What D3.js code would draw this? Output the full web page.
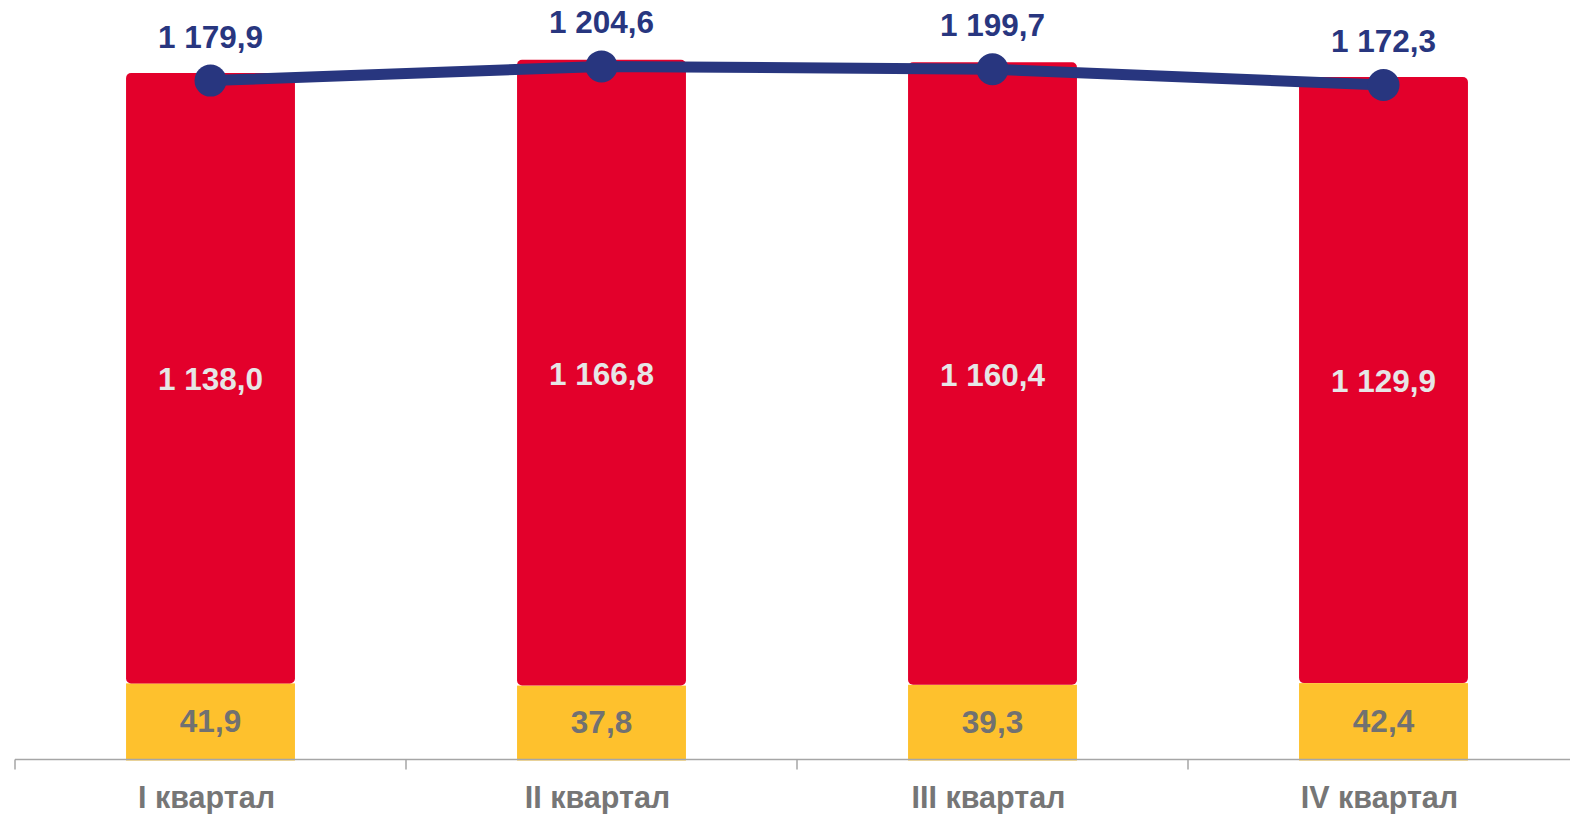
<!DOCTYPE html>
<html>
<head>
<meta charset="utf-8">
<script src="https://cdn.jsdelivr.net/npm/d3@7"></script>
<style>
  html, body { margin: 0; padding: 0; background: #ffffff; }
  svg { display: block; }
  text { font-family: "Liberation Sans", Arial, sans-serif; font-weight: bold; }
</style>
</head>
<body>
<svg id="chart" width="1570" height="814"></svg>
<script>
// ---- data ----
const categories = ["I квартал", "II квартал", "III квартал", "IV квартал"];
const yellowValues = [41.9, 37.8, 39.3, 42.4];
const redValues = [1138.0, 1166.8, 1160.4, 1129.9];
const totalValues = [1179.9, 1204.6, 1199.7, 1172.3];
const yellowLabels = ["41,9", "37,8", "39,3", "42,4"];
const redLabels = ["1 138,0", "1 166,8", "1 160,4", "1 129,9"];
const totalLabels = ["1 179,9", "1 204,6", "1 199,7", "1 172,3"];

// ---- layout ----
const W = 1570, H = 814;
const axisY = 759.5;
const svg = d3.select("#chart");

const xCat = d3.scaleBand().domain(categories).range([15, 1579]).padding(0);
const xBar = d3.scaleBand().domain(categories).range([15, 1579])
  .paddingInner(0.568).paddingOuter(0.284);

// primary axis (bars) starts below zero, secondary (line) starts at zero
const y1 = d3.scaleLinear().domain([-100, 1300]).range([axisY, 8.5]);
const y2 = d3.scaleLinear().domain([0, 1320]).range([axisY, 0]);

const C = {
  red: "#e3002b", yellow: "#fec12d", navy: "#28367f",
  redLbl: "#e6e6e6", yelLbl: "#717171", cat: "#767676", axis: "#a6a6a6"
};

const rows = categories.map((c, i) => ({
  c, y: yellowValues[i], r: redValues[i], t: totalValues[i],
  yl: yellowLabels[i], rl: redLabels[i], tl: totalLabels[i]
}));

// yellow segments
svg.append("g").selectAll("rect").data(rows).join("rect")
  .attr("x", d => xBar(d.c))
  .attr("width", xBar.bandwidth())
  .attr("y", d => y1(d.y))
  .attr("height", d => y1.range()[0] - y1(d.y) + 1)
  .attr("fill", C.yellow);

// red segments (stacked on yellow)
svg.append("g").selectAll("rect").data(rows).join("rect")
  .attr("x", d => xBar(d.c))
  .attr("width", xBar.bandwidth())
  .attr("y", d => y1(d.y + d.r))
  .attr("height", d => y1(d.y) - y1(d.y + d.r))
  .attr("rx", 5).attr("ry", 5)
  .attr("fill", C.red);

// axis line + ticks
const ax = svg.append("g");
ax.append("line").attr("x1", 15).attr("x2", W).attr("y1", axisY).attr("y2", axisY)
  .attr("stroke", C.axis).attr("stroke-width", 1.5);
ax.selectAll("line.tick").data(categories).join("line").attr("class", "tick")
  .attr("x1", d => xCat(d)).attr("x2", d => xCat(d))
  .attr("y1", axisY).attr("y2", axisY + 10)
  .attr("stroke", C.axis).attr("stroke-width", 1.5);

// category labels
svg.append("g").selectAll("text").data(rows).join("text")
  .attr("x", d => xCat(d.c) + xCat.bandwidth() / 2 - 4)
  .attr("y", axisY + 48.5)
  .attr("text-anchor", "middle")
  .attr("font-size", 30.5)
  .attr("fill", C.cat)
  .text(d => d.c);

// bar labels
svg.append("g").selectAll("text").data(rows).join("text")
  .attr("x", d => xBar(d.c) + xBar.bandwidth() / 2)
  .attr("y", d => (y1(d.y) + y1(d.y + d.r)) / 2 + 12)
  .attr("text-anchor", "middle")
  .attr("font-size", 31.5)
  .attr("fill", C.redLbl)
  .text(d => d.rl);

svg.append("g").selectAll("text").data(rows).join("text")
  .attr("x", d => xBar(d.c) + xBar.bandwidth() / 2)
  .attr("y", d => (y1(d.y) + axisY) / 2 + 10.5)
  .attr("text-anchor", "middle")
  .attr("font-size", 31.5)
  .attr("fill", C.yelLbl)
  .text(d => d.yl);

// total line
const cx = d => xCat(d.c) + xCat.bandwidth() / 2;
const line = d3.line().x(cx).y(d => y2(d.t));
svg.append("path").datum(rows)
  .attr("d", line)
  .attr("fill", "none")
  .attr("stroke", C.navy)
  .attr("stroke-width", 11)
  .attr("stroke-linejoin", "round");

svg.append("g").selectAll("circle").data(rows).join("circle")
  .attr("cx", cx).attr("cy", d => y2(d.t)).attr("r", 16)
  .attr("fill", C.navy);

svg.append("g").selectAll("text").data(rows).join("text")
  .attr("x", cx)
  .attr("y", d => y2(d.t) - 33)
  .attr("text-anchor", "middle")
  .attr("font-size", 31.5)
  .attr("fill", C.navy)
  .text(d => d.tl);
</script>
</body>
</html>
